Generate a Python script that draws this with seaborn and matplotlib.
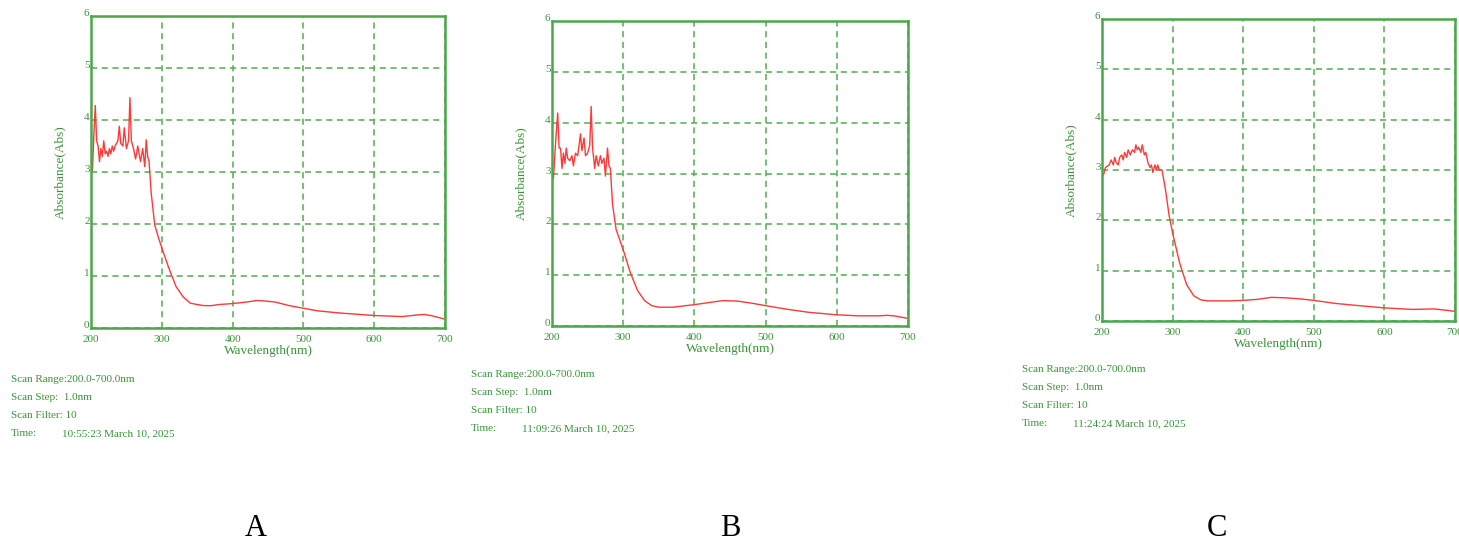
import matplotlib
matplotlib.use("Agg")
import matplotlib.pyplot as plt
import seaborn as sns
import pandas as pd

sns.set_theme(style="white")
plt.rcParams["font.family"] = ["Liberation Serif", "DejaVu Serif"]

# ---- spectra: wavelength (nm) and absorbance (Abs) ----
wl_a = [200, 202, 204, 206, 208, 210, 212, 214, 216, 218, 220, 222, 224, 226, 228, 230,
        232, 234, 236, 238, 240, 242, 245, 247, 250, 253, 255, 257, 260, 263, 266, 268,
        270, 273, 276, 278, 280, 282, 285, 290, 295, 300, 310, 320, 330, 340, 350, 360,
        370, 380, 400, 420, 435, 445, 460, 480, 500, 520, 550, 580, 600, 620, 640, 660,
        670, 680, 700]
abs_a = [3.10, 3.00, 3.70, 4.28, 3.60, 3.50, 3.20, 3.45, 3.30, 3.60, 3.35, 3.40, 3.30,
         3.45, 3.35, 3.50, 3.40, 3.50, 3.55, 3.60, 3.88, 3.55, 3.50, 3.85, 3.45, 3.60,
         4.43, 3.60, 3.45, 3.25, 3.50, 3.35, 3.20, 3.45, 3.10, 3.62, 3.30, 3.20, 2.60,
         1.98, 1.75, 1.54, 1.15, 0.80, 0.60, 0.48, 0.45, 0.43, 0.43, 0.45, 0.47, 0.50,
         0.53, 0.52, 0.50, 0.43, 0.38, 0.33, 0.29, 0.26, 0.24, 0.23, 0.22, 0.25, 0.26,
         0.24, 0.17]

wl_b = [200, 202, 205, 208, 210, 212, 214, 216, 218, 220, 222, 225, 228, 230, 233, 236,
        238, 240, 242, 245, 247, 250, 253, 255, 257, 260, 262, 265, 268, 270, 273, 275,
        278, 280, 282, 285, 290, 300, 310, 320, 330, 340, 350, 370, 400, 420, 440, 460,
        480, 500, 530, 560, 600, 630, 660, 670, 680, 700]
abs_b = [3.03, 2.90, 3.60, 4.19, 3.50, 3.50, 3.10, 3.40, 3.20, 3.50, 3.30, 3.25, 3.35,
         3.15, 3.40, 3.35, 3.55, 3.78, 3.45, 3.70, 3.35, 3.40, 3.55, 4.32, 3.50, 3.10,
         3.35, 3.15, 3.35, 3.20, 3.30, 2.95, 3.50, 3.15, 3.10, 2.40, 1.90, 1.50, 1.05,
         0.70, 0.50, 0.40, 0.37, 0.37, 0.42, 0.46, 0.50, 0.49, 0.45, 0.40, 0.33, 0.27,
         0.22, 0.20, 0.20, 0.21, 0.20, 0.15]

wl_c = [200, 202, 205, 210, 213, 216, 218, 220, 223, 225, 228, 230, 232, 235, 237, 240,
        243, 246, 248, 250, 252, 255, 257, 260, 262, 265, 268, 270, 272, 275, 277, 279,
        281, 285, 290, 295, 300, 310, 320, 330, 340, 350, 380, 400, 420, 440, 460, 480,
        500, 530, 560, 600, 640, 670, 690, 700]
abs_c = [2.95, 2.90, 3.05, 3.10, 3.20, 3.10, 3.25, 3.15, 3.10, 3.25, 3.30, 3.20, 3.35,
         3.25, 3.40, 3.30, 3.40, 3.35, 3.50, 3.40, 3.45, 3.35, 3.50, 3.30, 3.35, 3.15,
         3.05, 3.10, 2.95, 3.10, 3.00, 3.10, 3.00, 3.00, 2.60, 2.10, 1.75, 1.15, 0.72,
         0.50, 0.42, 0.40, 0.40, 0.41, 0.43, 0.47, 0.46, 0.44, 0.41, 0.35, 0.31, 0.26,
         0.23, 0.24, 0.21, 0.19]

panel_letters = ["A", "B", "C"]
scan_times = ["10:55:23 March 10, 2025", "11:09:26 March 10, 2025", "11:24:24 March 10, 2025"]
x_ticks = [200, 300, 400, 500, 600, 700]
y_ticks = [0, 1, 2, 3, 4, 5, 6]

W, H = 1459, 544
fig = plt.figure(figsize=(W / 100, H / 100), dpi=100)
fig.patch.set_facecolor("white")

FRAME = "#4aa84a"
GRID = "#4fae4f"
TEXT = "#389438"
CURVE = "#ff3838"

# pixel boxes: left, top, right, bottom
boxes = [(91, 16, 445, 328), (552, 21, 908, 326), (1102, 19, 1455, 321)]
# info block origin (x, first baseline y), tab column for time value
info = [(11, 382, 62), (471, 377, 522), (1022, 372, 1073)]
letter_x = [256, 730, 1217]

series = [(wl_a, abs_a), (wl_b, abs_b), (wl_c, abs_c)]

for i, ((l, t, r, b), (wl, ab)) in enumerate(zip(boxes, series)):
    ax = fig.add_axes([l / W, 1 - b / H, (r - l) / W, (b - t) / H])
    df = pd.DataFrame({"Wavelength": wl, "Absorbance": ab})
    sns.lineplot(data=df, x="Wavelength", y="Absorbance", ax=ax, color=CURVE,
                 linewidth=1.0)
    ax.set_xlim(200, 700)
    ax.set_ylim(0, 6)
    ax.set_xticks(x_ticks)
    ax.set_yticks(y_ticks)
    ax.set_xticklabels([str(v) for v in x_ticks])
    ax.set_yticklabels([str(v) for v in y_ticks])
    ax.tick_params(axis="both", length=0, labelsize=8, labelcolor=TEXT)
    ax.tick_params(axis="x", pad=5)
    ax.tick_params(axis="y", pad=1)
    for lab in ax.get_yticklabels():
        lab.set_verticalalignment("baseline")
    ax.grid(True, color=GRID, linestyle=(0, (4, 3)), linewidth=1.1)
    for sp in ax.spines.values():
        sp.set_color(FRAME)
        sp.set_linewidth(1.8)
        sp.set_visible(True)
    ax.set_xlabel("Wavelength(nm)", color=TEXT, fontsize=9.5, labelpad=1)
    ax.set_ylabel("Absorbance(Abs)", color=TEXT, fontsize=9.5, labelpad=13)

    x0, y0, tab = info[i]
    lines = ["Scan Range:200.0-700.0nm", "Scan Step:  1.0nm", "Scan Filter: 10"]
    for k, s in enumerate(lines):
        fig.text(x0 / W, 1 - (y0 + 18 * k) / H, s, color=TEXT, fontsize=8,
                 va="baseline", ha="left")
    fig.text(x0 / W, 1 - (y0 + 54) / H, "Time:", color=TEXT, fontsize=8,
             va="baseline", ha="left")
    fig.text(tab / W, 1 - (y0 + 54) / H, scan_times[i], color=TEXT, fontsize=8,
             va="baseline", ha="left")

    fig.text(letter_x[i] / W, 1 - 528 / H, panel_letters[i], color="black",
             fontsize=22, ha="center", va="center")

fig.savefig("out.png", dpi=100, facecolor="white")
